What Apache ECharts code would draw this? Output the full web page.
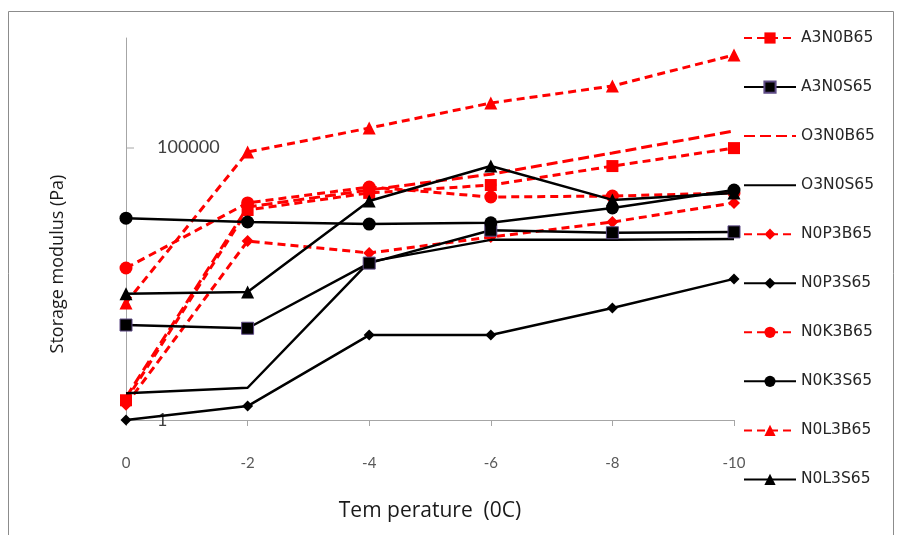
<!DOCTYPE html>
<html>
<head>
<meta charset="utf-8">
<script src="https://cdn.jsdelivr.net/npm/echarts@6/dist/echarts.min.js"></script>
<style>
html,body{margin:0;padding:0;background:#fff;}
#main{width:900px;height:535px;}
</style>
</head>
<body>
<div id="main"></div>
<script>
const categories = ['0', '-2', '-4', '-6', '-8', '-10'];
const A3N0B65 = [2.3, 7050, 14500, 20200, 45000, 96000];
const A3N0S65 = [55, 48, 750, 3000, 2700, 2800];
const O3N0B65 = [2.6, 8000, 16400, 32000, 78000, 198000];
const O3N0S65 = [3.1, 3.9, 790, 2000, 2000, 2080];
const N0P3B65 = [1.9, 1900, 1150, 2250, 4250, 9500];
const N0P3S65 = [1, 1.8, 36, 36, 113, 385];
const N0K3B65 = [610, 9500, 18600, 12200, 12700, 14500];
const N0K3S65 = [5000, 4250, 3900, 4100, 7700, 16400];
const N0L3B65 = [140, 81500, 224000, 644000, 1320000, 4890000];
const N0L3S65 = [205, 222, 10300, 45000, 10800, 14500];
const yTickLabels = [1, 100000];
const seriesNames = ['A3N0B65','A3N0S65','O3N0B65','O3N0S65','N0P3B65','N0P3S65','N0K3B65','N0K3S65','N0L3B65','N0L3S65'];
const noMarker = ['O3N0B65', 'O3N0S65'];

const RED = '#ff0000', BLACK = '#000000';
function red(name, data, symbol, size, dash) {
  return {
    name: name, type: 'line', data: data,
    symbol: symbol, symbolSize: size, showSymbol: symbol !== 'none',
    lineStyle: {color: RED, width: 3, type: dash || [8, 5]},
    itemStyle: {color: RED},
    z: 2
  };
}
function black(name, data, symbol, size, border) {
  return {
    name: name, type: 'line', data: data,
    symbol: symbol, symbolSize: size, showSymbol: symbol !== 'none',
    lineStyle: {color: BLACK, width: 2.5, type: 'solid'},
    itemStyle: border ? {color: BLACK, borderColor: '#5e4b86', borderWidth: 1} : {color: BLACK},
    z: 3
  };
}

const chart = echarts.init(document.getElementById('main'), null, {renderer: 'canvas'});
chart.setOption({
  animation: false,
  backgroundColor: '#fff',
  grid: {left: 126, right: 166, top: 38, bottom: 115, containLabel: false},
  legend: {
    orient: 'vertical', left: 738, top: 25,
    itemWidth: 52, itemHeight: 14, itemGap: 33.05,
    textStyle: {fontFamily: 'DejaVu Sans', fontSize: 15.5, color: '#262626'},
    data: seriesNames.map(function (n) {
      return noMarker.indexOf(n) >= 0 ? {name: n, itemStyle: {opacity: 0}} : {name: n};
    })
  },
  xAxis: {
    type: 'category', data: categories, boundaryGap: false,
    axisLine: {lineStyle: {color: '#a6a6a6', width: 1}},
    axisTick: {show: true, length: 6, lineStyle: {color: '#a6a6a6'}},
    axisLabel: {margin: 36, fontFamily: 'Lato', fontSize: 15, color: '#595959'},
    splitLine: {show: false},
    name: 'Tem perature  (0C)', nameLocation: 'middle', nameGap: 81,
    nameTextStyle: {fontFamily: 'Open Sans', fontSize: 21, color: '#1a1a1a'}
  },
  yAxis: {
    type: 'log', logBase: 10, min: 1, max: 10000000,
    axisLine: {show: true, lineStyle: {color: '#a6a6a6', width: 1}},
    axisTick: {show: false},
    splitLine: {show: false},
    axisLabel: {
      inside: true, margin: 31, fontFamily: 'Lato', fontSize: 18, color: '#404040',
      formatter: function (v) {
        const r = Math.round(v);
        return yTickLabels.indexOf(r) >= 0 ? String(r) : '';
      }
    }
  },
  graphic: [
    {type: 'rect', shape: {x: 8.5, y: 11.5, width: 885, height: 540}, style: {fill: 'none', stroke: '#8c8c8c', lineWidth: 1}, silent: true},
    {type: 'line', shape: {x1: 126, y1: 148, x2: 134, y2: 148}, style: {stroke: '#a6a6a6', lineWidth: 1}, silent: true},
    {type: 'text', x: 58, y: 264, rotation: Math.PI / 2,
     style: {text: 'Storage modulus (Pa)', fontFamily: 'Open Sans', fontSize: 18, fill: '#1a1a1a', textAlign: 'center', textVerticalAlign: 'middle'}, silent: true}
  ],
  series: [
    red('A3N0B65', A3N0B65, 'rect', 12),
    black('A3N0S65', A3N0S65, 'rect', 12, true),
    red('O3N0B65', O3N0B65, 'none', 0, [11, 5]),
    black('O3N0S65', O3N0S65, 'none', 0),
    red('N0P3B65', N0P3B65, 'diamond', 12),
    black('N0P3S65', N0P3S65, 'diamond', 11),
    red('N0K3B65', N0K3B65, 'circle', 13),
    black('N0K3S65', N0K3S65, 'circle', 13),
    red('N0L3B65', N0L3B65, 'triangle', 13),
    black('N0L3S65', N0L3S65, 'triangle', 13)
  ]
});
</script>
</body>
</html>
